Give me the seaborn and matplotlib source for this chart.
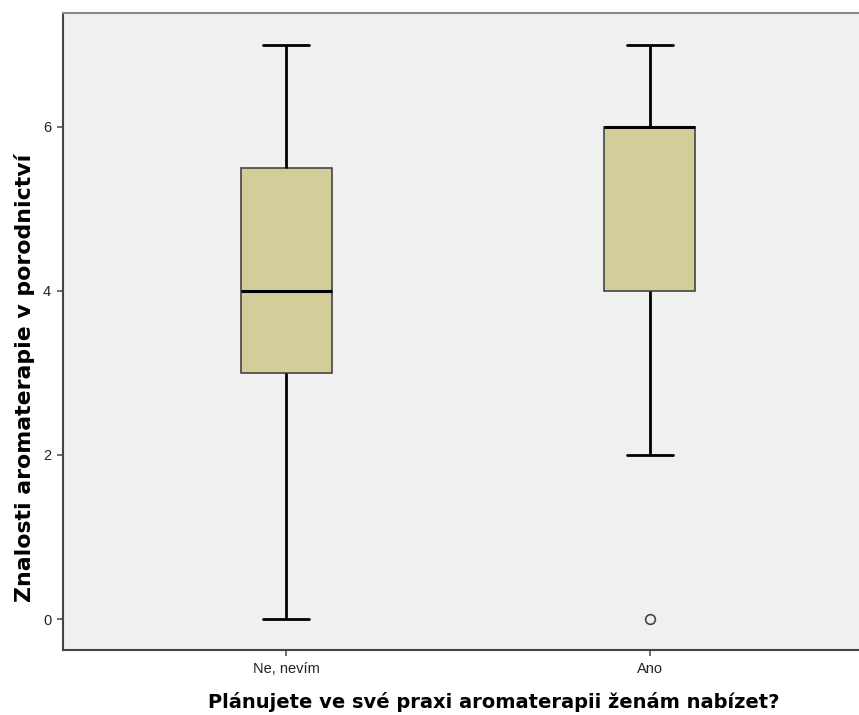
import numpy as np
import pandas as pd
import matplotlib
matplotlib.use("Agg")
import matplotlib.pyplot as plt
import seaborn as sns

categories = ["Ne, nevím", "Ano"]
scores_ne = [0, 1, 2, 3, 3, 3, 4, 4, 4, 5, 5, 6, 6, 7, 7]
scores_ano = [0, 2, 3, 4, 5, 5, 6, 6, 6, 6, 6, 7, 7]
y_ticks = [0, 2, 4, 6]
x_label = "Plánujete ve své praxi aromaterapii ženám nabízet?"
y_label = "Znalosti aromaterapie v porodnictví"

df = pd.DataFrame({
    "group": [categories[0]] * len(scores_ne) + [categories[1]] * len(scores_ano),
    "score": scores_ne + scores_ano,
})

sns.set_style("white")
plt.rcParams['font.family'] = ['Liberation Sans', 'DejaVu Sans']

fig = plt.figure(figsize=(8.59, 7.15), dpi=100)
ax = fig.add_axes([63 / 859, 1 - 650 / 715, (873 - 63) / 859, (650 - 13) / 715])
ax.set_facecolor("#F0F0F0")

sns.boxplot(
    data=df, x="group", y="score", order=categories, ax=ax,
    color="#D3CE99", width=0.25, whis=1.5, linewidth=1.5,
    boxprops=dict(facecolor="#D3CE99", edgecolor="#444444", linewidth=1.2),
    medianprops=dict(color="black", linewidth=2.2),
    whiskerprops=dict(color="black", linewidth=2.0),
    capprops=dict(color="black", linewidth=2.0),
    flierprops=dict(marker="o", markersize=7, markerfacecolor="none",
                    markeredgecolor="#444444", markeredgewidth=1.2),
)

ax.set_xlim(-0.613, 1.613)
ax.set_ylim(-0.378, 7.39)
ax.set_yticks(y_ticks)
ax.set_yticklabels([str(t) for t in y_ticks])
ax.tick_params(axis="both", direction="out", length=4.5, width=1.2, color="#555555",
               labelsize=10.5, labelcolor="#222222", pad=4, left=True, bottom=True)
ax.set_xlabel(x_label, fontsize=14, fontweight="bold", color="black",
              family=["DejaVu Sans"])
ax.set_ylabel(y_label, fontsize=15.8, fontweight="bold", color="black",
              family=["DejaVu Sans"])
ax.xaxis.set_label_coords((494 - 63) / 810, (650 - 692) / 637)
ax.yaxis.set_label_coords((35 - 63) / 810, (650 - 378) / 637)

for side in ["left", "bottom"]:
    ax.spines[side].set_color("#444444")
    ax.spines[side].set_linewidth(1.5)
for side in ["top", "right"]:
    ax.spines[side].set_color("#888888")
    ax.spines[side].set_linewidth(1.5)

fig.savefig("out.png", dpi=100)
